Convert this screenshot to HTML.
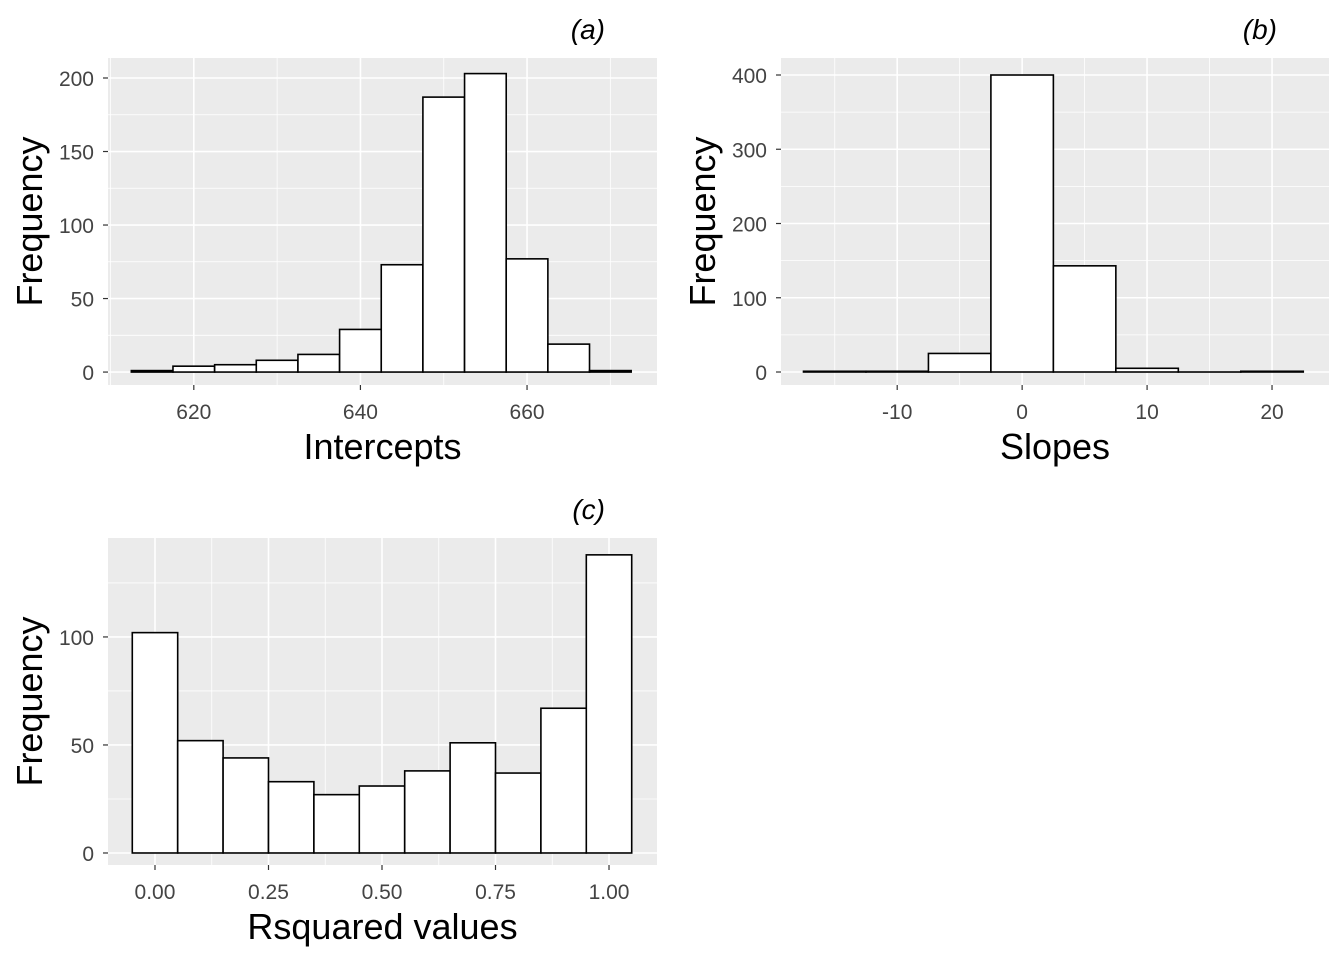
<!DOCTYPE html>
<html><head><meta charset="utf-8"><style>
body{margin:0;background:#fff;}
svg text{font-family:"Liberation Sans",sans-serif;}
</style></head><body>
<svg id="s" width="1344" height="960" xmlns="http://www.w3.org/2000/svg"></svg>
<script>
const aEdges=[612.5,617.5,622.5,627.5,632.5,637.5,642.5,647.5,652.5,657.5,662.5,667.5,672.5];
const aCounts=[1,4,5,8,12,29,73,187,203,77,19,1];
const aXTicks=[620,640,660];
const aYTicks=[0,50,100,150,200];
const bEdges=[-17.5,-12.5,-7.5,-2.5,2.5,7.5,12.5,17.5,22.5];
const bCounts=[1,1,25,400,143,5,0,1];
const bXTicks=[-10,0,10,20];
const bYTicks=[0,100,200,300,400];
const cEdges=[-0.05,0.05,0.15,0.25,0.35,0.45,0.55,0.65,0.75,0.85,0.95,1.05];
const cCounts=[102,52,44,33,27,31,38,51,37,67,138];
const cXTicks=[0,0.25,0.5,0.75,1];
const cXLabels=["0.00","0.25","0.50","0.75","1.00"];
const cYTicks=[0,50,100];
const NS="http://www.w3.org/2000/svg";
const svg=document.getElementById('s');
function mk(t,at,p){const e=document.createElementNS(NS,t);for(const k in at)e.setAttribute(k,at[k]);(p||svg).appendChild(e);return e;}
function panel(o){
  const g=mk('g',{});
  
  
  const X=v=>o.x0+(v-o.xmin)/(o.xmax-o.xmin)*(o.x1-o.x0);
  const Y=v=>o.y1-(v-o.ymin)/(o.ymax-o.ymin)*(o.y1-o.y0);
  const bg=mk('rect',{x:o.x0,y:o.y0,width:o.x1-o.x0,height:o.y1-o.y0,fill:'#ebebeb'},g);
  
  
  const xt=o.xt,yt=o.yt;
  const dx=xt[1]-xt[0],dy=yt[1]-yt[0];
  for(let v=xt[0]-dx/2;v<=o.xmax;v+=dx){if(v>=o.xmin)mk('line',{x1:X(v),x2:X(v),y1:o.y0,y2:o.y1,stroke:'#fff','stroke-width':0.8},g);}
  for(let v=yt[0]-dy/2;v<=o.ymax;v+=dy){if(v>=o.ymin)mk('line',{y1:Y(v),y2:Y(v),x1:o.x0,x2:o.x1,stroke:'#fff','stroke-width':0.8},g);}
  xt.forEach((v,i)=>{
    mk('line',{x1:X(v),x2:X(v),y1:o.y0,y2:o.y1,stroke:'#fff','stroke-width':1.6},g);
    mk('line',{x1:X(v),x2:X(v),y1:o.y1,y2:o.y1+5,stroke:'#333','stroke-width':1.2},g);
    const t=mk('text',{x:X(v),y:o.y1+34,'text-anchor':'middle','font-size':21,fill:'#444'},g);
    t.textContent=o.xl?o.xl[i]:String(v);
    
    
  });
  yt.forEach(v=>{
    mk('line',{y1:Y(v),y2:Y(v),x1:o.x0,x2:o.x1,stroke:'#fff','stroke-width':1.6},g);
    mk('line',{y1:Y(v),y2:Y(v),x1:o.x0-5,x2:o.x0,stroke:'#333','stroke-width':1.2},g);
    const t=mk('text',{x:o.x0-14,y:Y(v)+8,'text-anchor':'end','font-size':21,fill:'#444'},g);
    t.textContent=String(v);
    
    
  });
  o.counts.forEach((c,i)=>{
    const r=mk('rect',{x:X(o.edges[i]),y:Y(c),width:X(o.edges[i+1])-X(o.edges[i]),height:Math.max(Y(0)-Y(c),0.01),fill:'#fff',stroke:'#000','stroke-width':1.6},g);
    
    
  });
  const xtit=mk('text',{x:(o.x0+o.x1)/2,y:o.y1+74,'text-anchor':'middle','font-size':36,fill:'#000'},g);
  xtit.textContent=o.xlab;
  
  
  const cy=(o.y0+o.y1)/2, cx=o.x0-66;
  const ytit=mk('text',{x:cx,y:cy,'text-anchor':'middle','font-size':36,fill:'#000',transform:`rotate(-90 ${cx} ${cy})`},g);
  ytit.textContent='Frequency';
  
  
  const tt=mk('text',{x:o.x1-52,y:o.y0-19,'text-anchor':'end','font-size':28,'font-style':'italic',fill:'#000'},g);
  tt.textContent=o.tag;
  
  
}
panel({name:'panel-a-intercepts',x0:108,x1:657,y0:58,y1:385,xmin:609.7,xmax:675.6,ymin:-8.8,ymax:213.6,xt:aXTicks,yt:aYTicks,edges:aEdges,counts:aCounts,xlab:'Intercepts',tag:'(a)'});
panel({name:'panel-b-slopes',x0:781,x1:1329,y0:58,y1:385,xmin:-19.3,xmax:24.56,ymin:-17.5,ymax:422.9,xt:bXTicks,yt:bYTicks,edges:bEdges,counts:bCounts,xlab:'Slopes',tag:'(b)'});
panel({name:'panel-c-rsquared',x0:108,x1:657,y0:538,y1:865,xmin:-0.1035,xmax:1.1057,ymin:-5.56,ymax:145.8,xt:cXTicks,xl:cXLabels,yt:cYTicks,edges:cEdges,counts:cCounts,xlab:'Rsquared values',tag:'(c)'});
</script>
</body></html>
